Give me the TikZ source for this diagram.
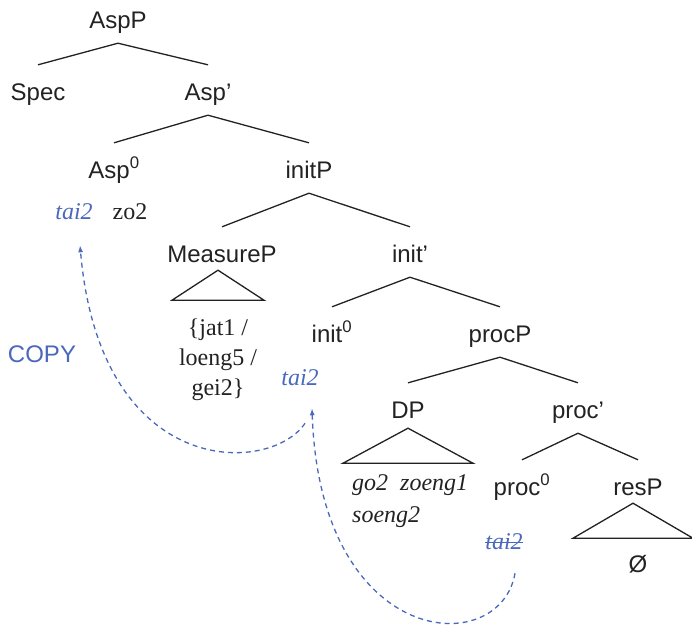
\documentclass[tikz,border=0pt]{standalone}
\usepackage{fontspec}
\setmainfont{Liberation Serif}
\setsansfont{Liberation Sans}
\usetikzlibrary{arrows.meta}
\definecolor{copyblue}{HTML}{4A68BC}
\definecolor{treeink}{HTML}{222222}

\begin{document}
\begin{tikzpicture}[
    x=1pt, y=-1pt,
    every node/.style={text=treeink},
    cat/.style={font=\sffamily\fontsize{24}{28}\selectfont, text height=22pt, text depth=2pt, inner xsep=0pt, inner ysep=13pt},
    word/.style={font=\fontsize{24}{30}\selectfont, inner sep=0pt},
    trace/.style={inner sep=0pt, font=\itshape\fontsize{24}{29}\selectfont, text=copyblue},
    branch/.style={treeink, line width=1.3pt},
    copyarrow/.style={-{Latex[length=7pt,width=5pt]}, copyblue, line width=1.3pt, dash pattern=on 5pt off 4pt}
]
    \useasboundingbox (0,0) rectangle (692,625);

    % === CATEGORY LABELS ===
    \node[cat] (aspp) at (118,18) {AspP};
    \node[cat] (spec) at (38,90) {Spec};
    \node[cat] (aspbar) at (208,90) {Asp’};
    \node[cat] (asp0) at (114,168) {Asp\textsuperscript{0}};
    \node[cat] (initp) at (309,168) {initP};
    \node[cat] (measp) at (222,252) {MeasureP};
    \node[cat] (initbar) at (410,252) {init’};
    \node[cat] (init0) at (332,332) {init\textsuperscript{0}};
    \node[cat] (procp) at (500,332) {procP};
    \node[cat] (dp) at (408,408) {DP};
    \node[cat] (procbar) at (578,408) {proc’};
    \node[cat] (proc0) at (522,485) {proc\textsuperscript{0}};
    \node[cat] (resp) at (638,485) {resP};
    \node[cat] (nul) at (638,562) {Ø};
    \node[cat, text=copyblue] (copy) at (42,352) {COPY};

    % === WORDS ===
    \node[trace] (t1) at (74,212) {tai2};
    \node[word] (zo) at (130,212) {zo2};
    \node[word, align=center] (mwords) at (218,360) {\{jat1 /\\loeng5 /\\gei2\}};
    \node[trace] (t2) at (300,378) {tai2};
    \node[word, font=\itshape\fontsize{24}{32}\selectfont, align=left, anchor=west] (dpwords) at (352,501) {go2\hspace{12pt}zoeng1\\soeng2};
    \node[trace] (t3) at (504,542) {tai2};
    \draw[copyblue, line width=0.9pt] (t3.west) -- (t3.east);

    % === BRANCHES ===
    \draw[branch] (aspp.south) -- (spec.north);
    \draw[branch] (aspp.south) -- (aspbar.north);
    \draw[branch] (aspbar.south) -- (asp0.north);
    \draw[branch] (aspbar.south) -- (initp.north);
    \draw[branch] (initp.south) -- (measp.north);
    \draw[branch] (initp.south) -- (initbar.north);
    \draw[branch] (initbar.south) -- (init0.north);
    \draw[branch] (initbar.south) -- (procp.north);
    \draw[branch] (procp.south) -- (dp.north);
    \draw[branch] (procp.south) -- (procbar.north);
    \draw[branch] (procbar.south) -- (proc0.north);
    \draw[branch] (procbar.south) -- (resp.north);

    % triangles
    \draw[branch] ([xshift=-4pt,yshift=7pt]measp.south) -- ++(-46,30) -- ++(92,0) -- cycle;
    \draw[branch] ([yshift=5pt]dp.south) -- ++(-65,35) -- ++(130,0) -- cycle;
    \draw[branch] ([xshift=-5pt,yshift=7pt]resp.south) -- ++(-60,35) -- ++(120,0) -- cycle;

    % === COPY MOVEMENT ===
    \draw[copyarrow] ([xshift=11pt,yshift=-23pt]t3.south) .. controls +(-15,87) and +(8,242) .. ([xshift=12pt,yshift=-22pt]t2.south);
    \draw[copyarrow] ([xshift=5pt,yshift=-37pt]t2.south) .. controls +(-35,52) and +(20,235) .. ([xshift=6pt,yshift=-25pt]t1.south);
\end{tikzpicture}
\end{document}
